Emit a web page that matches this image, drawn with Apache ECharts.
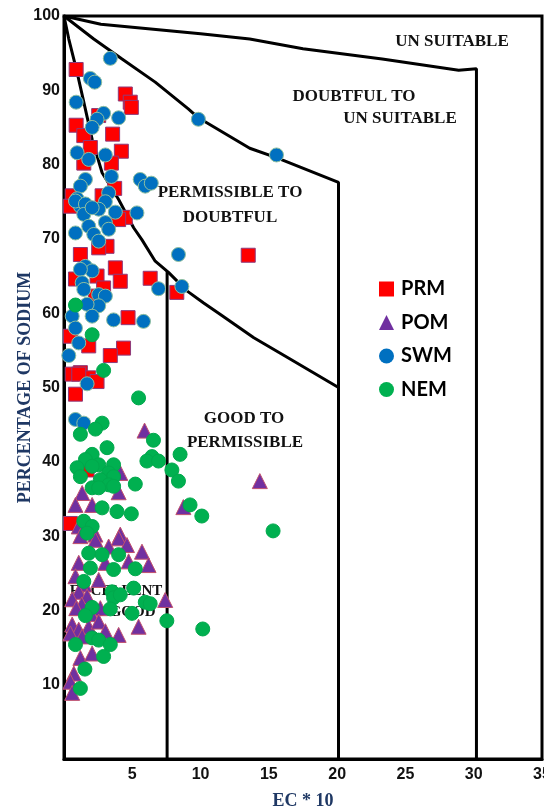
<!DOCTYPE html>
<html>
<head>
<meta charset="utf-8">
<script src="https://cdn.jsdelivr.net/npm/echarts@6/dist/echarts.min.js"></script>
<style>html,body{margin:0;padding:0;background:#fff;}#c{width:544px;height:812px;}</style>
</head>
<body>
<div id="c"></div>
<script>
// ---- data (EC*10 , % Na) ----
var seriesNames = ['PRM', 'POM', 'SWM', 'NEM'];
var xTicks = [5, 10, 15, 20, 25, 30, 35];
var yTicks = [10, 20, 30, 40, 50, 60, 70, 80, 90, 100];

var prm = [[0.89,92.8],[4.49,89.5],[4.85,88.4],[4.93,87.7],[2.54,86.6],[0.89,85.3],[1.45,83.9],[3.56,84.1],[1.93,82.3],[4.2,81.8],[1.45,80.2],[3.47,80.2],[3.71,76.8],[0.6,75.8],[2.79,75.8],[0.47,74.4],[4.49,72.9],[4.0,72.6],[3.15,69.0],[1.2,67.9],[2.54,68.8],[3.76,66.1],[4.12,64.3],[6.31,64.7],[2.42,65.0],[2.9,63.4],[2.3,62.3],[0.84,64.6],[8.26,62.8],[13.49,67.8],[4.69,59.4],[0.47,56.9],[1.81,55.6],[4.36,55.3],[3.39,54.3],[1.2,52.0],[1.81,51.3],[0.6,51.8],[1.08,51.8],[0.84,49.1],[2.42,50.8],[1.69,38.9],[0.47,31.7]];

var pom = [[5.9,44.2],[4.12,38.5],[4.0,35.9],[1.33,35.8],[0.84,34.2],[2.06,34.2],[14.34,37.4],[8.74,33.9],[1.08,31.3],[2.3,30.2],[4.12,30.2],[1.2,30.0],[2.3,29.5],[4.0,29.7],[3.27,28.6],[4.61,28.8],[5.71,27.9],[6.19,26.1],[1.08,26.4],[3.03,26.4],[4.73,26.6],[0.84,24.6],[2.54,24.1],[1.5,23.5],[1.08,22.5],[1.69,21.9],[0.6,21.5],[1.3,20.8],[0.9,20.3],[2.66,20.3],[2.0,19.5],[5.46,17.8],[4.0,16.7],[7.41,21.4],[0.6,18.1],[1.08,17.4],[1.81,17.8],[0.47,16.9],[1.33,16.5],[2.54,18.5],[3.03,17.2],[1.2,13.6],[0.72,11.5],[0.47,10.4],[0.6,8.9],[2.06,14.2]];

var swm = [[3.39,94.3],[1.93,91.6],[2.25,91.1],[0.89,88.4],[9.84,86.1],[2.9,86.9],[2.42,86.1],[2.06,85.0],[4.0,86.3],[0.96,81.6],[1.81,80.7],[3.03,81.3],[15.56,81.3],[3.47,78.4],[5.58,78.0],[5.95,77.1],[6.39,77.5],[1.57,78.0],[1.2,77.1],[3.27,76.2],[3.03,75.0],[0.96,75.4],[1.2,74.4],[0.84,75.1],[1.57,74.7],[2.54,74.0],[1.45,73.3],[2.06,74.2],[3.76,73.6],[5.34,73.5],[3.03,72.2],[3.27,71.3],[1.81,71.7],[2.18,70.6],[0.84,70.8],[2.54,69.7],[8.38,67.9],[1.57,66.3],[2.06,65.7],[1.2,65.9],[1.33,64.1],[1.45,63.2],[2.54,62.5],[3.03,62.3],[2.54,61.0],[1.69,61.2],[6.92,63.3],[8.63,63.6],[0.6,59.6],[2.06,59.6],[0.84,58.0],[3.63,59.1],[5.82,58.9],[1.08,56.0],[0.35,54.3],[1.69,50.5],[0.84,45.7],[1.45,45.2]];

var nem = [[0.84,61.1],[2.06,57.1],[2.9,52.3],[5.46,48.6],[2.79,45.2],[2.3,44.4],[1.2,43.7],[6.55,42.9],[3.15,41.9],[8.5,41.0],[6.44,40.7],[6.07,40.1],[6.92,40.1],[2.06,41.0],[1.57,40.3],[2.54,39.6],[3.63,39.6],[0.96,39.2],[2.06,39.4],[7.9,38.9],[8.38,37.4],[1.2,38.0],[3.27,38.5],[3.63,38.0],[2.66,37.6],[3.27,36.9],[5.22,37.0],[2.06,36.5],[2.54,36.5],[3.63,36.7],[9.23,34.2],[2.79,33.8],[3.88,33.3],[4.93,33.0],[10.09,32.7],[15.31,30.7],[1.45,32.0],[2.06,31.3],[1.69,30.4],[1.81,27.7],[2.79,27.5],[4.0,27.5],[1.93,25.7],[3.63,25.5],[5.22,25.6],[1.45,23.9],[3.52,22.5],[5.1,23.0],[3.63,21.7],[4.12,22.1],[5.95,21.1],[6.31,20.9],[3.39,20.2],[4.98,19.6],[2.06,20.4],[1.57,19.3],[7.53,18.6],[10.16,17.5],[2.06,16.3],[2.54,16.0],[3.39,15.4],[2.9,13.8],[0.84,15.4],[1.53,12.1],[1.2,9.5]];

// ---- Wilcox class boundaries ----
var unsuitableLine = [[0,100],[2.7,98.9],[10,97.6],[13.6,96.9],[17.5,95.6],[23.3,94.2],[28.9,92.7],[30.2,92.9],[30.2,0]];
var doubtfulLine = [[0,100],[2.18,96.9],[4.25,94.2],[6.68,91.1],[9.1,87.5],[9.84,86.3],[13.6,82.2],[15.6,80.9],[20.1,77.6],[20.1,0]];
var permissibleLine = [[0,100],[0.35,96.9],[0.96,92.4],[1.45,88.4],[2.06,83.4],[2.79,78.9],[4.0,75.3],[5.1,71.5],[5.7,69.9],[6.68,67.0],[7.65,65.5],[9.0,63.0],[10.2,61.4],[11.4,59.9],[13.9,56.7],[16.4,54.0],[20.1,50.0]];
var goodLine = [[7.55,65.6],[7.55,0]];

var chart = echarts.init(document.getElementById('c'), null, {renderer: 'canvas'});

function boundary(data) {
  return {type: 'line', data: data, symbol: 'none', silent: true, z: 1, legendHoverLink: false,
    lineStyle: {color: '#000', width: 3}, smooth: false};
}
var serifBold = 'bold 17px "Liberation Serif"';
function region(text, x, y, font) {
  return {type: 'text', x: x, y: y, z: 0, silent: true,
    style: {text: text, font: font || serifBold, fill: '#111', align: 'center', verticalAlign: 'middle'}};
}

var option = {
  animation: false,
  backgroundColor: '#fff',
  grid: {left: 64, right: 2, top: 16, bottom: 53, show: true, borderColor: '#000', borderWidth: 3,
    backgroundColor: 'transparent', containLabel: false, outerBoundsMode: 'none'},
  xAxis: {
    type: 'value', min: 0, max: 35, interval: 5,
    name: 'EC * 10', nameLocation: 'middle', nameGap: 33, nameMoveOverlap: false,
    nameTextStyle: {color: '#1f3864', fontFamily: 'Liberation Serif', fontWeight: 'bold', fontSize: 18},
    axisLine: {show: true, lineStyle: {color: '#000', width: 3}},
    axisTick: {show: false}, splitLine: {show: false},
    axisLabel: {color: '#111', fontFamily: 'Liberation Sans', fontWeight: 'bold', fontSize: 16, margin: 8,
      formatter: function (v) { return xTicks.indexOf(v) >= 0 ? String(v) : ''; }}
  },
  yAxis: {
    type: 'value', min: 0, max: 100, interval: 10,
    name: 'PERCENTAGE OF SODIUM', nameLocation: 'middle', nameGap: 30, nameRotate: 90, nameMoveOverlap: false,
    nameTextStyle: {color: '#1f3864', fontFamily: 'Liberation Serif', fontWeight: 'bold', fontSize: 18},
    axisLine: {show: true, lineStyle: {color: '#000', width: 3}},
    axisTick: {show: false}, splitLine: {show: false},
    axisLabel: {color: '#111', fontFamily: 'Liberation Sans', fontWeight: 'bold', fontSize: 16, margin: 4,
      formatter: function (v) { return yTicks.indexOf(v) >= 0 ? String(v) : ''; }}
  },
  legend: {
    data: [
      {name: 'PRM', itemStyle: {borderWidth: 0}},
      {name: 'POM', itemStyle: {borderWidth: 0}},
      {name: 'SWM', itemStyle: {borderWidth: 0}},
      {name: 'NEM', itemStyle: {borderWidth: 0}}
    ],
    orient: 'vertical', left: 374, top: 274,
    itemWidth: 15, itemHeight: 15, itemGap: 13.5,
    textStyle: {fontFamily: 'Lato', fontWeight: 'bold', fontSize: 20, color: '#000', padding: [0, 0, 0, 2]}
  },
  graphic: [
    region('UN SUITABLE', 452, 42),
    region('DOUBTFUL TO', 354, 97),
    region('UN SUITABLE', 400, 119),
    region('PERMISSIBLE TO', 230, 193),
    region('DOUBTFUL', 230, 218),
    region('GOOD TO', 244, 419),
    region('PERMISSIBLE', 245, 443),
    region('EXCELLENT', 116, 591, 'bold 15px "Liberation Serif"'),
    region('TO GOOD', 120, 612, 'bold 15px "Liberation Serif"')
  ],
  series: [
    boundary(unsuitableLine), boundary(doubtfulLine), boundary(permissibleLine), boundary(goodLine),
    {name: seriesNames[0], type: 'scatter', data: prm, symbol: 'rect', symbolSize: 14, z: 3,
      itemStyle: {color: '#ff0000', borderColor: '#8e3a7a', borderWidth: 1, opacity: 1}},
    {name: seriesNames[1], type: 'scatter', data: pom, symbol: 'triangle', symbolSize: 15, z: 3,
      itemStyle: {color: '#7030a0', borderColor: '#c0506d', borderWidth: 1, opacity: 1}},
    {name: seriesNames[2], type: 'scatter', data: swm, symbol: 'circle', symbolSize: 14, z: 3,
      itemStyle: {color: '#0070c0', borderColor: '#8fbf9f', borderWidth: 1, opacity: 1}},
    {name: seriesNames[3], type: 'scatter', data: nem, symbol: 'circle', symbolSize: 14, z: 3,
      itemStyle: {color: '#00b050', borderColor: '#00a84c', borderWidth: 1, opacity: 1}}
  ]
};
chart.setOption(option);
</script>
</body>
</html>
